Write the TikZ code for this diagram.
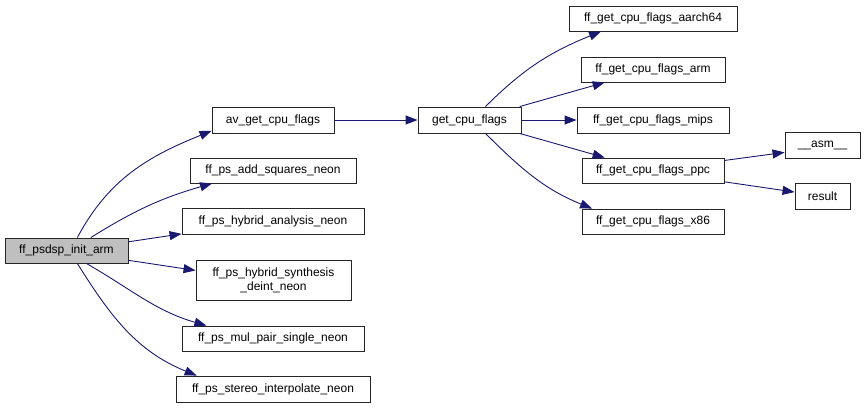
\documentclass[tikz,border=0pt]{standalone}
\usepackage{fontspec}
\setmainfont{Liberation Sans}
\usepackage{xcolor}
\usepackage{tikz}
\usetikzlibrary{arrows.meta}

\definecolor{edgeblue}{RGB}{25,25,112}
\definecolor{rootgray}{RGB}{191,191,191}

\tikzset{
  fn/.style={draw=black!85, line width=0.9pt, rectangle, inner sep=0pt,
    font=\fontsize{12}{14}\selectfont, align=center, fill=white},
  root/.style={fn, fill=rootgray},
  call/.style={draw=edgeblue, line width=0.9pt,
    -{Triangle[length=12pt, width=9pt, fill=edgeblue]}}
}

\begin{document}
\begin{tikzpicture}[x=1pt, y=-1pt]
\useasboundingbox (0,0) rectangle (865,408);

% Callers side
\node[root, minimum width=123pt, minimum height=25pt] (init) at (66.5,250.5) {ff\_psdsp\_init\_arm};
\node[fn, minimum width=122pt, minimum height=26pt] (av) at (273,120) {av\_get\_cpu\_flags};
\node[fn, minimum width=166pt, minimum height=25pt] (addsq) at (273,170.5) {ff\_ps\_add\_squares\_neon};
\node[fn, minimum width=182pt, minimum height=26pt] (hyban) at (273,221) {ff\_ps\_hybrid\_analysis\_neon};
\node[fn, minimum width=155pt, minimum height=40pt] (hybsyn) at (273.5,280) {ff\_ps\_hybrid\_synthesis\\\_deint\_neon};
\node[fn, minimum width=182pt, minimum height=25pt] (mulpair) at (273,338.5) {ff\_ps\_mul\_pair\_single\_neon};
\node[fn, minimum width=194pt, minimum height=26pt] (stereo) at (273,389) {ff\_ps\_stereo\_interpolate\_neon};

% cpu flags
\node[fn, minimum width=103pt, minimum height=26pt] (get) at (469.5,120) {get\_cpu\_flags};
\node[fn, minimum width=168pt, minimum height=25pt] (aarch64) at (653,18.5) {ff\_get\_cpu\_flags\_aarch64};
\node[fn, minimum width=144pt, minimum height=25pt] (arm) at (653,69.5) {ff\_get\_cpu\_flags\_arm};
\node[fn, minimum width=152pt, minimum height=26pt] (mips) at (653,120) {ff\_get\_cpu\_flags\_mips};
\node[fn, minimum width=142pt, minimum height=25pt] (ppc) at (653,170.5) {ff\_get\_cpu\_flags\_ppc};
\node[fn, minimum width=142pt, minimum height=25pt] (x86) at (653,221.5) {ff\_get\_cpu\_flags\_x86};
\node[fn, minimum width=75pt, minimum height=26pt] (asm) at (822.5,145) {\_\_asm\_\_};
\node[fn, minimum width=55pt, minimum height=26pt] (result) at (822.5,196) {result};

% Calls
\draw[call] (init.50) to[out=62, in=202] (av.190);
\draw[call] (init.28) to[out=32, in=196] (addsq.192);
\draw[call] (init.8) -- (hyban.188);
\draw[call] (init.-9) -- (hybsyn.173);
\draw[call] (init.-33) to[out=-30, in=164] (mulpair.169);
\draw[call] (init.-50) to[out=-58, in=158] (stereo.170);
\draw[call] (av.east) -- (get.west);

\draw[call] (get.40) to[out=45, in=202] (aarch64.194);
\draw[call] (get.15) -- (arm.195);
\draw[call] (get.east) -- (mips.west);
\draw[call] (get.-15) -- (ppc.165);
\draw[call] (get.-40) to[out=-45, in=158] (x86.168);
\draw[call] (ppc.8) -- (asm.191);
\draw[call] (ppc.-9) -- (result.172);
\end{tikzpicture}
\end{document}
